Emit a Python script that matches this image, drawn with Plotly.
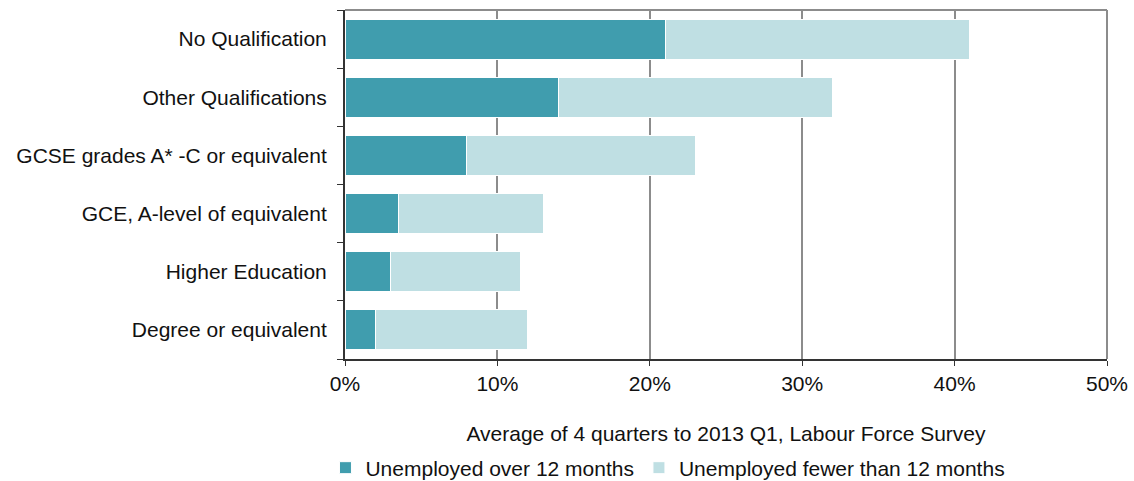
import plotly.graph_objects as go

categories = ["Degree or equivalent", "Higher Education", "GCE, A-level of equivalent",
              "GCSE grades A* -C or equivalent", "Other Qualifications", "No Qualification"]
over_12 = [2, 3, 3.5, 8, 14, 21]
under_12 = [10, 8.5, 9.5, 15, 18, 20]
x_ticks = [0, 10, 20, 30, 40, 50]
x_tick_labels = ["0%", "10%", "20%", "30%", "40%", "50%"]

dark = "#409DAE"
light = "#BFDFE3"
font = "Liberation Sans, Arial, sans-serif"
fs = 21

fig = go.Figure()
fig.add_trace(go.Bar(y=categories, x=over_12, orientation="h", name="Unemployed over 12 months",
                     marker=dict(color=dark, line=dict(color="white", width=1)), width=0.69))
fig.add_trace(go.Bar(y=categories, x=under_12, orientation="h", name="Unemployed fewer than 12 months",
                     marker=dict(color=light, line=dict(color="white", width=1)), width=0.69))

fig.update_layout(
    barmode="stack",
    width=1134, height=481,
    margin=dict(l=345, r=27, t=10, b=122),
    plot_bgcolor="white", paper_bgcolor="white",
    font=dict(family=font, size=fs, color="#111"),
    showlegend=True,
    legend=dict(orientation="h", xref="container", x=0.287, xanchor="left",
                yref="container", y=0.027, yanchor="middle",
                font=dict(size=fs), itemwidth=30, traceorder="normal", tracegroupgap=0),
    shapes=[
        dict(type="line", xref="paper", yref="paper", x0=0, x1=1, y0=1, y1=1,
             line=dict(color="#8C8C8C", width=2)),
        dict(type="line", xref="paper", yref="paper", x0=1, x1=1, y0=0, y1=1,
             line=dict(color="#8C8C8C", width=2)),
    ],
)
fig.update_xaxes(range=[0, 50], tickvals=x_ticks, ticktext=x_tick_labels,
                 showgrid=True, gridcolor="#8C8C8C", gridwidth=2,
                 showline=True, linecolor="#333", linewidth=2,
                 ticks="outside", ticklen=5, tickcolor="#333", tickwidth=1,
                 zeroline=False, automargin=False,
                 title=dict(text="Average of 4 quarters to 2013 Q1, Labour Force Survey",
                            font=dict(size=fs), standoff=32),
                 tickfont=dict(size=fs))
fig.update_yaxes(showline=True, linecolor="#333", linewidth=2,
                 ticks="outside", tickson="boundaries", ticklen=6, tickcolor="#333",
                 showgrid=False, tickfont=dict(size=fs), ticklabelstandoff=12, automargin=False)

fig.write_html("out.html")
